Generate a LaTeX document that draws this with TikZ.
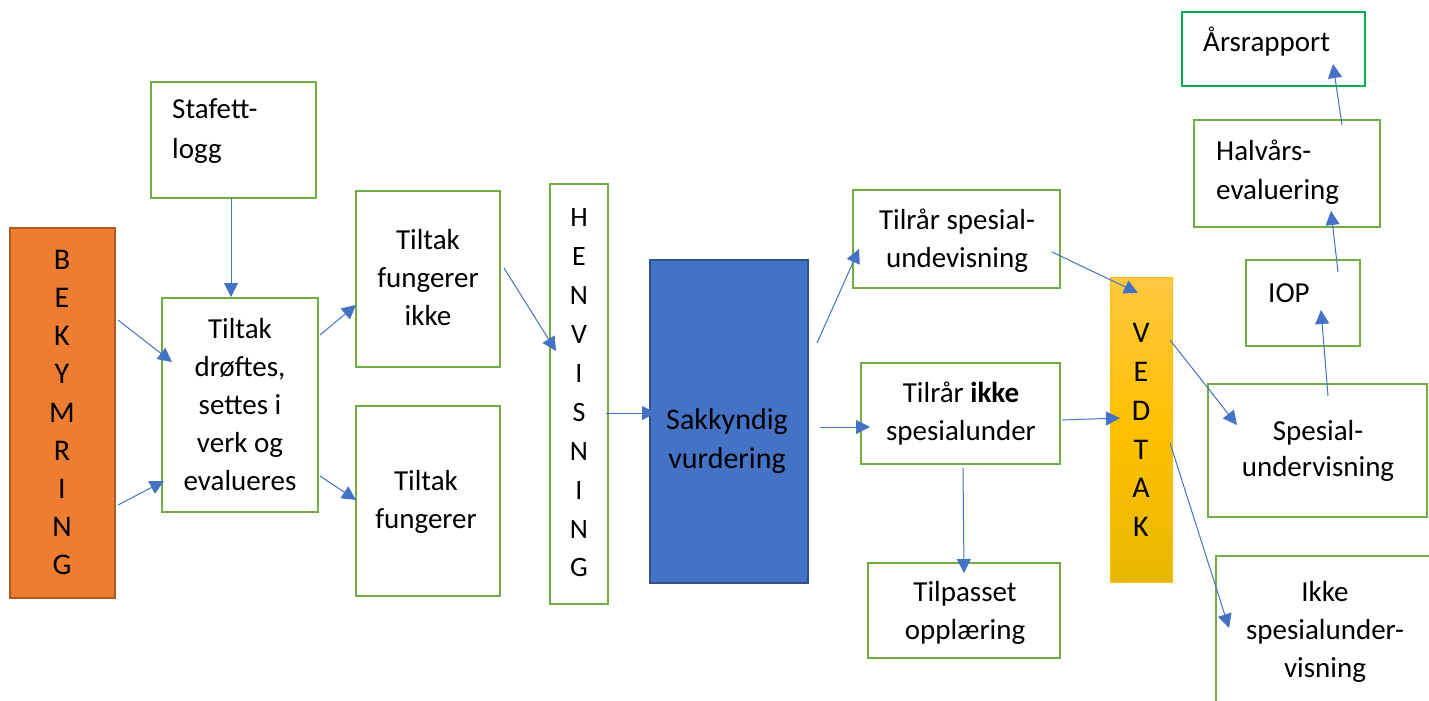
\documentclass[tikz,border=0pt]{standalone}
\usepackage{fontspec}
\setmainfont{Carlito}
\usetikzlibrary{arrows.meta,calc}
\definecolor{grn}{HTML}{70AD47}
\definecolor{grnb}{HTML}{00B050}
\definecolor{blu}{HTML}{4472C4}
\definecolor{bludk}{HTML}{2F528F}
\definecolor{org}{HTML}{ED7D31}
\definecolor{orgdk}{HTML}{AE5A21}
\definecolor{goldtop}{RGB}{255,200,64}
\definecolor{goldmid}{RGB}{255,192,0}
\definecolor{goldbot}{RGB}{230,184,0}
\begin{document}
\begin{tikzpicture}[x=1pt,y=-1pt,
  box/.style={draw=grn, line width=2.8pt, fill=white, inner sep=0pt},
  txt/.style={font=\fontsize{29}{38}\selectfont, align=center, inner sep=0pt, text=black},
  ltxt/.style={font=\fontsize{29}{40}\selectfont, align=left, inner sep=0pt, anchor=west, text=black},
  vtxt/.style={font=\fontsize{30}{38.2}\selectfont, align=center, inner sep=0pt, text=black},
  arr/.style={draw=blu, line width=1pt, -{Triangle[length=14pt,width=14pt]}}]
\useasboundingbox (0,0) rectangle (1429,701);
\fill[white] (0,0) rectangle (1429,701);

% boxes
\node[draw=orgdk, fill=org, line width=2pt, minimum width=105pt, minimum height=370pt, inner sep=0pt] (bek) at (62.5,413) {};
\node[box, minimum width=165pt, minimum height=116pt] (staf) at (233.5,140) {};
\node[box, minimum width=156pt, minimum height=214pt] (drof) at (240,405) {};
\node[box, minimum width=144pt, minimum height=176pt] (fikke) at (428,279) {};
\node[box, minimum width=144pt, minimum height=190pt] (fung) at (428,501) {};
\node[box, minimum width=58pt, minimum height=420pt] (henv) at (579,394) {};
\node[draw=bludk, fill=blu, line width=2pt, minimum width=158pt, minimum height=323pt, inner sep=0pt] (sak) at (729,421.5) {};
\node[box, minimum width=207pt, minimum height=98pt] (tsp) at (956.5,239) {};
\node[box, minimum width=199pt, minimum height=101pt] (tik) at (960.5,413.5) {};
\node[box, minimum width=192pt, minimum height=95pt] (tilp) at (964,610.5) {};
\node[draw=goldmid, line width=1pt, top color=goldtop, bottom color=goldbot, middle color=goldmid, minimum width=62pt, minimum height=305pt, inner sep=0pt] (ved) at (1141,429.5) {};
\node[draw=grnb, line width=2pt, fill=white, minimum width=183pt, minimum height=74pt, inner sep=0pt] (ars) at (1273.5,49) {};
\node[box, minimum width=186pt, minimum height=107pt] (halv) at (1287,173.5) {};
\node[box, minimum width=114pt, minimum height=86pt] (iop) at (1303,303) {};
\node[box, minimum width=219pt, minimum height=133pt] (spes) at (1317.5,450.5) {};
\node[box, minimum width=234pt, minimum height=164pt] (ikkesp) at (1333,638) {};

% texts
\node[vtxt] (tbek) at (62,412.5) {B\\E\\K\\Y\\M\\R\\I\\N\\G};
\node[ltxt] (tstaf) at (172,131.5) {Stafett-\\logg};
\node[txt] (tdrof) at (240,405) {Tiltak\\drøftes,\\settes i\\verk og\\evalueres};
\node[txt] (tfikke) at (428,278) {Tiltak\\fungerer\\ikke};
\node[txt] (tfung) at (426,501.5) {Tiltak\\fungerer};
\node[vtxt, font=\fontsize{28}{38.9}\selectfont] (thenv) at (579,393) {H\\E\\N\\V\\I\\S\\N\\I\\N\\G};
\node[txt, font=\fontsize{30}{39}\selectfont] (tsak) at (727,441.5) {Sakkyndig\\vurdering};
\node[txt] (ttsp) at (957,240.5) {Tilrår spesial-\\undevisning};
\node[txt] (ttik) at (961,413.5) {Tilrår \textbf{ikke}\\spesialunder};
\node[txt] (ttilp) at (965,613) {Tilpasset\\opplæring};
\node[vtxt, font=\fontsize{30}{38.8}\selectfont] (tved) at (1141,430) {V\\E\\D\\T\\A\\K};
\node[ltxt] (tars) at (1203,42) {Årsrapport};
\node[ltxt, font=\fontsize{29}{39}\selectfont] (thalv) at (1216,172.5) {Halvårs-\\evaluering};
\node[ltxt] (tiop) at (1268,293) {IOP};
\node[txt, font=\fontsize{29}{36}\selectfont] (tspes) at (1318,451) {Spesial-\\undervisning};
\node[txt] (tikkesp) at (1325,631.5) {Ikke\\spesialunder-\\visning};

% connector end points
\coordinate (a1s) at (118,320); \coordinate (a1e) at (172,362);
\coordinate (a2s) at (118,505); \coordinate (a2e) at (164,481);
\coordinate (a3s) at (231,198); \coordinate (a3e) at (231,297);
\coordinate (a4s) at (320,335); \coordinate (a4e) at (356,305);
\coordinate (a5s) at (320,476); \coordinate (a5e) at (356,500);
\coordinate (a6s) at (504,268); \coordinate (a6e) at (556,351);
\coordinate (a7s) at (606,413); \coordinate (a7e) at (656,413);
\coordinate (a8s) at (817,343); \coordinate (a8e) at (859,249);
\coordinate (a9s) at (820,427); \coordinate (a9e) at (870,427);
\coordinate (a10s) at (1052,252); \coordinate (a10e) at (1138,293);
\coordinate (a11s) at (1062,420); \coordinate (a11e) at (1120,418);
\coordinate (a12s) at (963,468); \coordinate (a12e) at (964,573);
\coordinate (a13s) at (1170,340); \coordinate (a13e) at (1237,425);
\coordinate (a14s) at (1170,443); \coordinate (a14e) at (1229,628);
\coordinate (a15s) at (1328,396); \coordinate (a15e) at (1321,310);
\coordinate (a16s) at (1338,272); \coordinate (a16e) at (1331,211);
\coordinate (a17s) at (1342,125); \coordinate (a17e) at (1333,64);

\foreach \i in {1,...,17} {\draw[arr] (a\i s) -- (a\i e);}
\end{tikzpicture}
\end{document}
